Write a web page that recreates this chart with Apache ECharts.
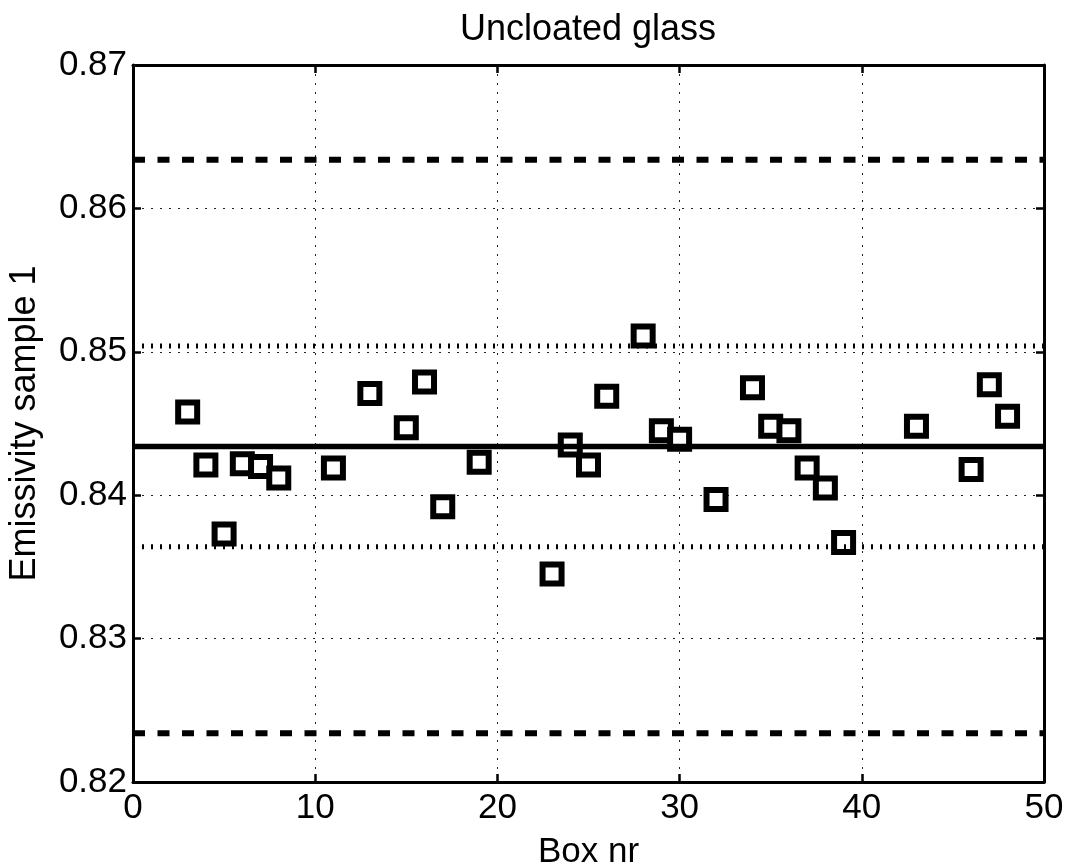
<!DOCTYPE html>
<html>
<head>
<meta charset="utf-8">
<title>Uncloated glass</title>
<script src="https://cdn.jsdelivr.net/npm/echarts@6/dist/echarts.min.js"></script>
<style>
    html, body { margin: 0; padding: 0; background: #fff; }
    #chart { width: 1074px; height: 865px; }
</style>
</head>
<body>
<div id="chart"></div>
<script>
// box numbers and measured emissivity (sample 1)
var boxNr = [3, 4, 5, 6, 7, 8, 11, 13, 15, 16, 17, 19, 23, 24, 25, 26, 28, 29, 30, 32, 34, 35, 36, 37, 38, 39, 43, 46, 47, 48];
var emissivity = [0.8458, 0.8421, 0.8373, 0.8422, 0.8420, 0.8412, 0.8419, 0.8471, 0.8447, 0.8479, 0.8392, 0.8423, 0.8345, 0.8435, 0.8421, 0.8469,
    0.8511, 0.8445, 0.8439, 0.8397, 0.8475, 0.8448, 0.8445, 0.8419, 0.8405, 0.8367, 0.8448, 0.8418, 0.8477, 0.8455];

// horizontal reference levels
var meanLevel = 0.8434;
var stdLevels = [0.8504, 0.8364];
var limitLevels = [0.8634, 0.8234];

var xRange = [0, 50];
var yRange = [0.82, 0.87];

var FONT = "'Liberation Sans', Arial, Helvetica, sans-serif";

function hLine(v, style) {
    return {
        type: 'line',
        data: [[xRange[0], v], [xRange[1], v]],
        symbol: 'none',
        silent: true,
        animation: false,
        lineStyle: style
    };
}

function drawChart(chartDiv) {
    var myChart = echarts.init(chartDiv);

    var points = boxNr.map(function (b, i) { return [b, emissivity[i]]; });

    var series = [{
        type: 'scatter',
        data: points,
        symbol: 'rect',
        symbolSize: 19,
        itemStyle: {color: '#fff', borderColor: '#000', borderWidth: 6, opacity: 1},
        animation: false
    }];
    series.push(hLine(meanLevel, {color: '#000', width: 5.5, type: 'solid'}));
    stdLevels.forEach(function (v) {
        series.push(hLine(v, {color: '#000', width: 5, type: [2, 7], cap: 'butt'}));
    });
    limitLevels.forEach(function (v) {
        series.push(hLine(v, {color: '#000', width: 6, type: [12, 12.5], cap: 'butt'}));
    });

    var gridDots = {show: true, lineStyle: {color: '#222', width: 1, type: [2, 7]}};
    var frameLine = {show: true, onZero: false, lineStyle: {color: '#000', width: 3}};
    var innerTick = {show: true, inside: true, length: 8, lineStyle: {color: '#000', width: 2.5}};

    var option = {
        backgroundColor: '#fff',
        title: {
            text: 'Uncloated glass',
            left: 588,
            textAlign: 'center',
            top: 12,
            padding: 0,
            textStyle: {fontFamily: FONT, fontSize: 36, fontWeight: 'normal', color: '#000'}
        },
        grid: {left: 133, right: 30, top: 65, bottom: 83, containLabel: false, outerBoundsMode: 'none'},
        xAxis: [{
            type: 'value',
            position: 'bottom',
            min: xRange[0], max: xRange[1], interval: 10,
            name: 'Box nr',
            nameLocation: 'middle',
            nameGap: 53,
            nameTextStyle: {fontFamily: FONT, fontSize: 35, color: '#000'},
            axisLine: frameLine,
            axisTick: innerTick,
            axisLabel: {fontFamily: FONT, fontSize: 35, color: '#000', margin: 9},
            splitLine: gridDots
        }, {
            type: 'value',
            position: 'top',
            min: xRange[0], max: xRange[1], interval: 10,
            axisLine: frameLine,
            axisTick: innerTick,
            axisLabel: {show: false},
            splitLine: {show: false}
        }],
        yAxis: [{
            type: 'value',
            position: 'left',
            min: yRange[0], max: yRange[1], interval: 0.01,
            name: 'Emissivity sample 1',
            nameLocation: 'middle',
            nameGap: 90,
            nameTextStyle: {fontFamily: FONT, fontSize: 36, color: '#000'},
            axisLine: frameLine,
            axisTick: innerTick,
            axisLabel: {
                fontFamily: FONT, fontSize: 35, color: '#000', margin: 6,
                formatter: function (v) { return v.toFixed(2); }
            },
            splitLine: gridDots
        }, {
            type: 'value',
            position: 'right',
            min: yRange[0], max: yRange[1], interval: 0.01,
            axisLine: frameLine,
            axisTick: innerTick,
            axisLabel: {show: false},
            splitLine: {show: false}
        }],
        series: series
    };
    myChart.setOption(option);
}

drawChart(document.getElementById('chart'));
</script>
</body>
</html>
